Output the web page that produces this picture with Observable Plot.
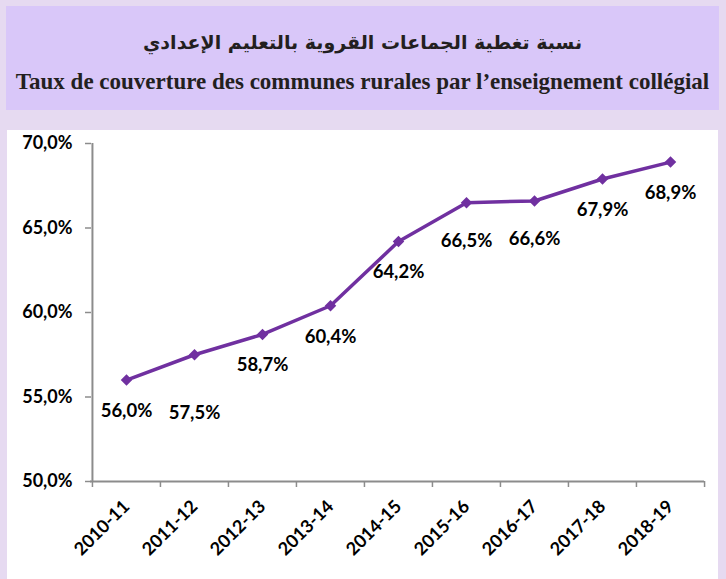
<!DOCTYPE html>
<html>
<head>
<meta charset="utf-8">
<script src="https://cdn.jsdelivr.net/npm/d3@7"></script>
<script src="https://cdn.jsdelivr.net/npm/@observablehq/plot@0.6"></script>
<style>
  html, body { margin: 0; padding: 0; }
  body { width: 726px; height: 579px; background: #e6daf1; position: relative; overflow: hidden; }
  #title { position: absolute; left: 6px; top: 6px; width: 713px; height: 104px; background: #d9c7f9; text-align: center; color: #231f20; }
  #ar { position: absolute; left: 0; right: 0; top: 25px; font-family: "DejaVu Sans", sans-serif; font-weight: bold; font-size: 19px; direction: rtl; }
  #fr { position: absolute; left: 0; right: 0; top: 63px; font-family: "Liberation Serif", serif; font-weight: bold; font-size: 23px; white-space: nowrap; }
  #chart { position: absolute; left: 7px; top: 130px; width: 711px; height: 449px; background: #ffffff; }
</style>
</head>
<body>
<div id="title">
  <div id="ar">نسبة تغطية الجماعات القروية بالتعليم الإعدادي</div>
  <div id="fr">Taux de couverture des communes rurales par l’enseignement collégial</div>
</div>
<div id="chart"></div>
<script>
const years = ["2010-11","2011-12","2012-13","2013-14","2014-15","2015-16","2016-17","2017-18","2018-19"];
const rates = [56.0, 57.5, 58.7, 60.4, 64.2, 66.5, 66.6, 67.9, 68.9];
const yTicks = [50, 55, 60, 65, 70];

const data = years.map((year, i) => ({year, rate: rates[i]}));
const fmt = v => v.toFixed(1).replace(".", ",") + "%";

const W = 711, H = 449, mL = 84, mR = 14, mT = 13, mB = 98;
const step = (W - mL - mR) / years.length;
const purple = "#7030a0";
const font = "Lato, 'Open Sans', sans-serif";

const chart = Plot.plot({
  width: W, height: H,
  marginLeft: mL, marginRight: mR, marginTop: mT, marginBottom: mB,
  style: {fontFamily: font, background: "transparent", color: "#000"},
  x: {type: "point", domain: years, padding: 0.5, label: null},
  y: {domain: [50, 70], label: null},
  marks: [
    Plot.axisY({ticks: yTicks, tickFormat: fmt, tickSize: 6, tickPadding: 13, stroke: "#8c8c8c", strokeWidth: 1.5, fontSize: 18, fontWeight: "bold", fill: "#000"}),
    Plot.ruleX([0], {x: () => years[0], dx: -step / 2, y1: 50, y2: 70, stroke: "#8c8c8c", strokeWidth: 2}),
    Plot.ruleY([50], {stroke: "#8c8c8c", strokeWidth: 2, insetLeft: -1}),
    Plot.ruleX(years, {x: d => d, y1: 50, y2: 50, dx: -step / 2, insetBottom: -6, stroke: "#8c8c8c", strokeWidth: 1.5}),
    Plot.ruleX([years[years.length - 1]], {x: d => d, y1: 50, y2: 50, dx: step / 2, insetBottom: -6, stroke: "#8c8c8c", strokeWidth: 1.5}),
    Plot.axisX({tickSize: 0, tickRotate: -45, tickPadding: 22, fontSize: 18, fontWeight: "bold", fill: "#000"}),
    Plot.line(data, {x: "year", y: "rate", stroke: purple, strokeWidth: 3.5}),
    Plot.dot(data, {x: "year", y: "rate", symbol: "square", rotate: 45, r: 4.6, fill: purple, stroke: "none"}),
    Plot.text(data.filter(d => !["2011-12","2015-16","2016-17"].includes(d.year)), {x: "year", y: "rate", text: d => fmt(d.rate), dy: 31, fontSize: 18.5, fontWeight: "bold", fill: "#000"}),
    Plot.text(data.filter(d => ["2015-16","2016-17"].includes(d.year)), {x: "year", y: "rate", text: d => fmt(d.rate), dy: 38, fontSize: 18.5, fontWeight: "bold", fill: "#000"}),
    Plot.text(data.filter(d => d.year === "2011-12"), {x: "year", y: "rate", text: d => fmt(d.rate), dy: 58, fontSize: 18.5, fontWeight: "bold", fill: "#000"})
  ]
});
document.getElementById("chart").appendChild(chart);
</script>
</body>
</html>
